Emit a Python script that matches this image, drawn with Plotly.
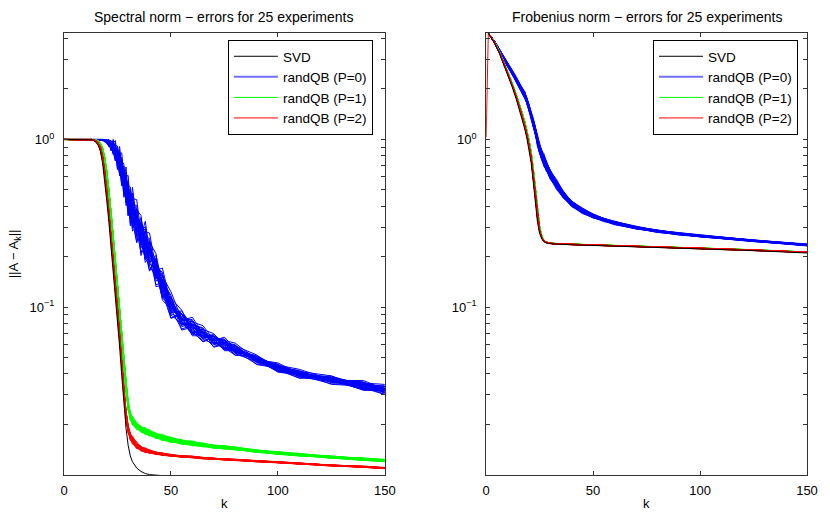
import math
import plotly.graph_objects as go

# ---------------- data ----------------
K_SPEC = [0, 10, 12, 13, 14, 15, 16, 17, 18, 19,
          20, 21, 22, 23, 24, 25, 26, 27, 28, 29,
          30, 31, 32, 34, 36, 38, 40, 43, 46, 50,
          55, 60, 65, 70, 75, 80, 90, 100, 110, 125,
          140, 150]

SVD_SPEC = [1.0, 1.0, 1.0, 0.995, 0.985, 0.96, 0.92, 0.85, 0.73, 0.58,
            0.43, 0.32, 0.23, 0.165, 0.12, 0.085, 0.058, 0.039, 0.026, 0.019,
            0.015, 0.013, 0.012, 0.011, 0.0105, 0.0102, 0.01005, 0.00998, 0.0099, 0.0098,
            0.0097, 0.0096, 0.0095, 0.0094, 0.0093, 0.0092, 0.0091, 0.009, 0.0089, 0.0088,
            0.0087, 0.0086]

P0_SPEC = [1.0, 1.0, 1.0, 1.0, 1.0, 1.0, 0.999, 0.997, 0.993, 0.985,
           0.972, 0.95, 0.925, 0.895, 0.85, 0.79, 0.73, 0.655, 0.58, 0.515,
           0.455, 0.41, 0.375, 0.32, 0.275, 0.24, 0.21, 0.17, 0.135, 0.102,
           0.085, 0.076, 0.069, 0.064, 0.06, 0.056, 0.049, 0.0435, 0.04, 0.037,
           0.034, 0.0322]
P0_SPEC_SPREAD = [0.0005, 0.0005, 0.0005, 0.0005, 0.0005, 0.0005, 0.001, 0.003, 0.006, 0.01,
                  0.018, 0.03, 0.045, 0.06, 0.08, 0.1, 0.115, 0.13, 0.14, 0.15,
                  0.16, 0.165, 0.17, 0.17, 0.17, 0.16, 0.15, 0.14, 0.125, 0.105,
                  0.085, 0.072, 0.064, 0.058, 0.053, 0.048, 0.041, 0.036, 0.035, 0.036,
                  0.038, 0.04]

P1_SPEC = [1.0, 1.0, 1.0, 1.0, 1.0, 0.99, 0.975, 0.94, 0.88, 0.775,
           0.635, 0.49, 0.365, 0.265, 0.19, 0.135, 0.095, 0.066, 0.046, 0.033,
           0.026, 0.0226, 0.021, 0.0196, 0.0188, 0.0182, 0.0178, 0.0172, 0.0167, 0.0162,
           0.0158, 0.0154, 0.0151, 0.0148, 0.0146, 0.0144, 0.0139, 0.0135, 0.0132, 0.0128,
           0.0124, 0.0122]
P1_SPEC_SPREAD = [0.001, 0.001, 0.001, 0.001, 0.001, 0.003, 0.006, 0.01, 0.015, 0.02,
                  0.02, 0.02, 0.02, 0.02, 0.02, 0.02, 0.02, 0.03, 0.04, 0.045,
                  0.045, 0.04, 0.035, 0.03, 0.028, 0.027, 0.026, 0.025, 0.024, 0.022,
                  0.02, 0.018, 0.016, 0.015, 0.014, 0.013, 0.012, 0.011, 0.011, 0.01,
                  0.01, 0.01]

P2_SPEC = [1.0, 1.0, 1.0, 1.0, 0.99, 0.975, 0.945, 0.89, 0.785, 0.64,
           0.49, 0.365, 0.265, 0.19, 0.138, 0.098, 0.068, 0.046, 0.031, 0.0225,
           0.0188, 0.017, 0.0161, 0.015, 0.0144, 0.014, 0.0138, 0.0135, 0.0133, 0.0131,
           0.0129, 0.0128, 0.0126, 0.0125, 0.0124, 0.0123, 0.0121, 0.0119, 0.0117, 0.0114,
           0.0112, 0.011]
P2_SPEC_SPREAD = [0.001, 0.001, 0.001, 0.001, 0.003, 0.006, 0.01, 0.015, 0.02, 0.025,
                  0.025, 0.025, 0.025, 0.025, 0.025, 0.025, 0.025, 0.03, 0.035, 0.04,
                  0.035, 0.032, 0.03, 0.027, 0.022, 0.018, 0.015, 0.012, 0.01, 0.008,
                  0.007, 0.007, 0.006, 0.006, 0.006, 0.006, 0.006, 0.005, 0.005, 0.005,
                  0.005, 0.005]

K_FROB = [1, 2, 4, 6, 8, 10, 12, 14, 16, 17,
          18, 19, 20, 21, 22, 23, 24, 25, 26, 27,
          28, 30, 33, 36, 40, 45, 50, 55, 60, 70,
          80, 90, 100, 125, 150]

SVD_FROB = [4.3, 4.12, 3.72, 3.3, 2.85, 2.45, 2.08, 1.75, 1.45, 1.3,
            1.16, 1.02, 0.88, 0.73, 0.56, 0.42, 0.32, 0.275, 0.255, 0.246,
            0.242, 0.239, 0.2375, 0.2365, 0.2355, 0.2345, 0.2335, 0.2325, 0.2315, 0.2295,
            0.2275, 0.2255, 0.2235, 0.2175, 0.2105]

P0_FROB = [4.3, 4.15, 3.82, 3.45, 3.1, 2.78, 2.52, 2.28, 2.05, 1.95,
           1.84, 1.7, 1.55, 1.4, 1.26, 1.13, 0.98, 0.88, 0.81, 0.75,
           0.7, 0.62, 0.535, 0.47, 0.415, 0.375, 0.35, 0.333, 0.318, 0.298,
           0.284, 0.274, 0.266, 0.249, 0.235]
P0_FROB_SPREAD = [0.0, 0.002, 0.005, 0.009, 0.013, 0.016, 0.018, 0.02, 0.022, 0.024,
                  0.026, 0.028, 0.03, 0.033, 0.036, 0.04, 0.042, 0.044, 0.045, 0.045,
                  0.044, 0.04, 0.035, 0.03, 0.025, 0.02, 0.017, 0.015, 0.013, 0.011,
                  0.01, 0.009, 0.008, 0.007, 0.007]

P1_FROB = [4.3, 4.14, 3.77, 3.37, 2.94, 2.55, 2.18, 1.85, 1.56, 1.41,
           1.27, 1.13, 0.99, 0.84, 0.67, 0.51, 0.38, 0.3, 0.265, 0.25,
           0.2445, 0.2408, 0.239, 0.238, 0.237, 0.236, 0.235, 0.234, 0.233, 0.231,
           0.229, 0.227, 0.225, 0.2195, 0.213]

P2_FROB = [4.3, 4.13, 3.75, 3.34, 2.9, 2.5, 2.13, 1.8, 1.5, 1.35,
           1.21, 1.07, 0.93, 0.78, 0.61, 0.46, 0.345, 0.285, 0.259, 0.248,
           0.2435, 0.2402, 0.2385, 0.2375, 0.2365, 0.2355, 0.2345, 0.2335, 0.2325, 0.2305,
           0.2285, 0.2265, 0.2245, 0.219, 0.2125]
P12_FROB_SPREAD = [0.0, 0.001, 0.001, 0.0015, 0.002, 0.002, 0.0025, 0.003, 0.004, 0.005,
                   0.006, 0.007, 0.008, 0.009, 0.01, 0.01, 0.009, 0.006, 0.004, 0.003,
                   0.002, 0.0015, 0.0015, 0.0015, 0.0015, 0.0015, 0.0015, 0.0015, 0.0015, 0.0015,
                   0.0015, 0.0015, 0.0015, 0.0015, 0.0015]

# start point of the last P=2 Frobenius run (drawn at k=0)
P2_FROB_K0 = 0
P2_FROB_V0 = 1.03

# per-experiment position inside each band (-1 = lower edge, 1 = upper edge)
OFF_BASE = [-1.0, -0.86, -0.74, -0.63, -0.53, -0.44, -0.36, -0.28, -0.21, -0.14,
            -0.08, -0.03, 0.02, 0.07, 0.12, 0.18, 0.24, 0.3, 0.37, 0.44,
            0.52, 0.6, 0.7, 0.82, 0.96]
OFF_B = [0.3, -0.6, 0.9, -0.2, 0.5, -0.95, 0.1, 0.7, -0.45, 0.2,
         -0.75, 0.6, -0.1, -0.3, 0.8, -0.55, 0.45, -0.05, -0.85, 0.35,
         0.0, 0.65, -0.4, 0.15, -0.65]
OFF_C = [-0.4, 0.7, -0.15, 0.55, -0.8, 0.25, -0.5, 0.05, 0.9, -0.7,
         0.4, -0.25, 0.65, -0.9, 0.1, 0.35, -0.6, 0.8, 0.2, -0.35,
         0.5, -1.0, 0.3, -0.1, 0.75]
OFF_D = [0.6, 0.15, -0.7, -0.45, 0.05, 0.8, 0.45, -0.9, 0.3, -0.2,
         0.95, -0.5, 0.25, 0.7, -0.65, 0.0, -0.3, -0.85, 0.55, 0.1,
         -0.15, 0.35, 0.85, -0.6, -0.4]

N_EXP = 25
TITLES = ["Spectral norm − errors for 25 experiments",
          "Frobenius norm − errors for 25 experiments"]
LEGEND_NAMES = ["SVD", "randQB (P=0)", "randQB (P=1)", "randQB (P=2)"]
COLORS = ["#000000", "#0000FF", "#00FF00", "#FF0000"]
LEGEND_BLUE = "#7070FF"
Y_MAJOR = [0.1, 1]
Y_MAJOR_TEXT = ["10<sup>−1</sup>", "10<sup>0</sup>"]
Y_MINOR = [0.02, 0.03, 0.04, 0.05, 0.06, 0.07, 0.08, 0.09,
           0.2, 0.3, 0.4, 0.5, 0.6, 0.7, 0.8, 0.9, 2, 3, 4]
X_TICKS = [0, 50, 100, 150]
Y_MIN, Y_MAX = 0.01, 4.31


def bundle(center, spread, mix, cap=None):
    cyc = [OFF_B, OFF_C, OFF_D]
    runs = []
    for i in range(N_EXP):
        ys = []
        for j, (c, s) in enumerate(zip(center, spread)):
            o = (1 - mix) * OFF_BASE[i] + mix * cyc[j % 3][i]
            v = c * 10 ** (s * o)
            if cap is not None:
                v = min(v, cap)
            ys.append(v)
        runs.append(ys)
    return runs


FONT = "Liberation Sans, Arial, Helvetica, sans-serif"
fig = go.Figure()


def add_group(k, runs, color, name, xa, ya, leg, rank, first_extra=None, legend_color=None):
    if legend_color is not None:
        fig.add_trace(go.Scatter(
            x=[None], y=[None], mode="lines", line=dict(color=legend_color, width=2),
            name=name, legendgroup=name + leg, showlegend=True, legend=leg,
            legendrank=rank, xaxis=xa, yaxis=ya, hoverinfo="skip"))
    for i, ys in enumerate(runs):
        xs = list(k)
        yv = list(ys)
        if first_extra is not None and i == len(runs) - 1:
            xs = [first_extra[0]] + xs
            yv = [first_extra[1]] + yv
        fig.add_trace(go.Scatter(
            x=xs, y=yv, mode="lines", line=dict(color=color, width=1),
            name=name, legendgroup=name + leg,
            showlegend=(i == 0 and legend_color is None),
            legend=leg, legendrank=rank, xaxis=xa, yaxis=ya, hoverinfo="skip"))


# spectral panel
add_group(K_SPEC, bundle(P0_SPEC, P0_SPEC_SPREAD, 0.65, 1.0), COLORS[1], LEGEND_NAMES[1], "x", "y",
          "legend", 2, legend_color=LEGEND_BLUE)
add_group(K_SPEC, bundle(P1_SPEC, P1_SPEC_SPREAD, 0.45, 1.0), COLORS[2], LEGEND_NAMES[2], "x", "y", "legend", 3)
add_group(K_SPEC, bundle(P2_SPEC, P2_SPEC_SPREAD, 0.45, 1.0), COLORS[3], LEGEND_NAMES[3], "x", "y", "legend", 4)
add_group(K_SPEC, [SVD_SPEC], COLORS[0], LEGEND_NAMES[0], "x", "y", "legend", 1)

# Frobenius panel
add_group(K_FROB, bundle(P0_FROB, P0_FROB_SPREAD, 0.3), COLORS[1], LEGEND_NAMES[1], "x2", "y2",
          "legend2", 2, legend_color=LEGEND_BLUE)
add_group(K_FROB, bundle(P1_FROB, P12_FROB_SPREAD, 0.2), COLORS[2], LEGEND_NAMES[2], "x2", "y2", "legend2", 3)
add_group(K_FROB, bundle(P2_FROB, P12_FROB_SPREAD, 0.2), COLORS[3], LEGEND_NAMES[3], "x2", "y2", "legend2", 4,
          first_extra=(P2_FROB_K0, P2_FROB_V0))
add_group(K_FROB, [SVD_FROB], COLORS[0], LEGEND_NAMES[0], "x2", "y2", "legend2", 1)

# ---------------- layout ----------------
W, H = 830, 517
ML, MR, MT, MB = 64, 18, 33, 42
pw = W - ML - MR
ph = H - MT - MB
x1_right = (387 - ML) / pw
x2_left = (489 - ML) / pw

axis_common = dict(showline=True, linecolor="#333333", linewidth=1, mirror="allticks",
                   ticks="inside", ticklen=4, tickcolor="#333333", showgrid=False,
                   zeroline=False, tickfont=dict(family=FONT, size=13, color="#000000"))

yvals = sorted(Y_MINOR + Y_MAJOR)
ytext = [Y_MAJOR_TEXT[Y_MAJOR.index(v)] if v in Y_MAJOR else "" for v in yvals]

yaxis_common = dict(axis_common, type="log", range=[math.log10(Y_MIN), math.log10(Y_MAX)],
                    tickmode="array", tickvals=yvals, ticktext=ytext, ticklabelstandoff=6)
xaxis_common = dict(axis_common, range=[0, 150], tickmode="array", tickvals=X_TICKS,
                    ticktext=[str(v) for v in X_TICKS], ticklabelstandoff=3)

legend_common = dict(xanchor="left", yanchor="top", bgcolor="#FFFFFF", bordercolor="#000000",
                     borderwidth=1, font=dict(family=FONT, size=13.5, color="#000000"),
                     tracegroupgap=0, traceorder="normal", itemwidth=44)

fig.update_layout(
    width=W, height=H, margin=dict(l=ML, r=MR, t=MT, b=MB),
    paper_bgcolor="#FFFFFF", plot_bgcolor="#FFFFFF",
    font=dict(family=FONT, size=13, color="#000000"),
    xaxis=dict(xaxis_common, domain=[0, x1_right], anchor="y"),
    yaxis=dict(yaxis_common, domain=[0, 1], anchor="x"),
    xaxis2=dict(xaxis_common, domain=[x2_left, 1], anchor="y2"),
    yaxis2=dict(yaxis_common, domain=[0, 1], anchor="x2"),
    legend=dict(legend_common, x=(229 - ML) / pw, y=1 - (40 - MT) / ph),
    legend2=dict(legend_common, x=(657 - ML) / pw, y=1 - (40 - MT) / ph),
    showlegend=True,
)

annotations = [
    dict(text=TITLES[0], x=x1_right / 2, y=1 + (MT - 17) / ph, xref="paper", yref="paper",
         xanchor="center", yanchor="middle", showarrow=False, font=dict(family=FONT, size=14)),
    dict(text=TITLES[1], x=(x2_left + 1) / 2, y=1 + (MT - 17) / ph, xref="paper", yref="paper",
         xanchor="center", yanchor="middle", showarrow=False, font=dict(family=FONT, size=14)),
    dict(text="k", x=x1_right / 2, y=-(503 - (H - MB)) / ph, xref="paper", yref="paper",
         xanchor="center", yanchor="middle", showarrow=False, font=dict(family=FONT, size=13)),
    dict(text="k", x=(x2_left + 1) / 2, y=-(503 - (H - MB)) / ph, xref="paper", yref="paper",
         xanchor="center", yanchor="middle", showarrow=False, font=dict(family=FONT, size=13)),
    dict(text="||A − A<sub>k</sub>||", x=(14 - ML) / pw, y=0.5, xref="paper", yref="paper",
         xanchor="center", yanchor="middle", textangle=-90, showarrow=False,
         font=dict(family=FONT, size=13)),
]
fig.update_layout(annotations=annotations)

fig.write_html("out.html", config={"displayModeBar": False},
               post_script="document.body.style.margin='0';document.body.style.overflow='hidden';")
